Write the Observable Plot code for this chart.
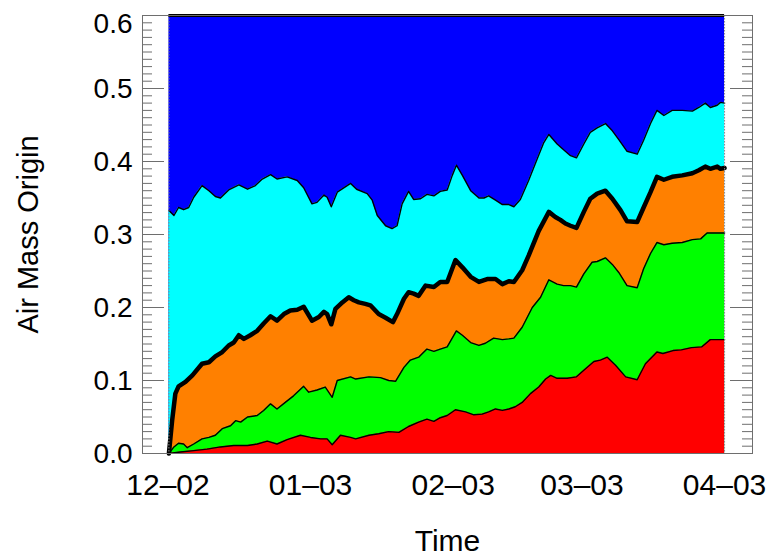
<!DOCTYPE html>
<html><head><meta charset="utf-8">
<script src="https://cdn.jsdelivr.net/npm/d3@7"></script>
<script src="https://cdn.jsdelivr.net/npm/@observablehq/plot@0.6"></script>
<style>html,body{margin:0;padding:0;background:#fff}svg{display:block}</style>
</head><body><div id="chart"></div>
<script>
// ---- data (days since 2002-12-01, cumulative layer tops) ----
const startDate = "2002-12-01";
const domainDays = [-5.54, 127.07];
const xTickDays = [0, 31, 62, 90, 121];
const xTickLabels = ["12–02", "01–03", "02–03", "03–03", "04–03"];
const yMajorTicks = [0, 0.1, 0.2, 0.3, 0.4, 0.5, 0.6];
const yMinorStep = 0.01;
const yMax = 0.6;

const cyanDays = [0.2,1.3,2.3,3.4,4.5,5.6,7.4,8.9,10.3,11.4,13.2,15.4,17.3,19.0,20.5,22.3,23.7,25.9,28.1,29.5,31.3,32.4,33.9,34.6,35.5,36.8,39.7,41.0,43.3,44.4,45.5,47.3,48.7,49.8,50.9,52.3,53.4,54.9,56.3,57.8,59.2,60.7,61.8,62.7,64.0,65.8,67.6,68.7,69.7,71.2,72.7,74.1,75.2,76.6,78.4,80.3,81.7,82.8,84.6,86.0,87.5,88.8,90.4,91.8,93.3,95.1,96.6,98.0,99.8,102.0,103.4,104.9,106.3,107.8,109.6,111.8,114.0,115.4,116.8,117.9,119.4,120.1,121.0];
const cyanTop = [0.333,0.326,0.337,0.334,0.337,0.351,0.367,0.360,0.352,0.350,0.361,0.368,0.362,0.367,0.376,0.382,0.376,0.379,0.374,0.364,0.342,0.344,0.354,0.351,0.338,0.358,0.370,0.362,0.356,0.347,0.326,0.312,0.308,0.312,0.342,0.359,0.348,0.349,0.355,0.353,0.359,0.361,0.381,0.395,0.381,0.360,0.350,0.350,0.353,0.347,0.341,0.341,0.338,0.348,0.374,0.404,0.426,0.437,0.424,0.416,0.408,0.405,0.424,0.440,0.446,0.452,0.442,0.430,0.414,0.410,0.429,0.452,0.470,0.463,0.470,0.470,0.469,0.474,0.480,0.474,0.477,0.481,0.480];

const orangeDays = [0.2,0.9,1.6,2.3,3.8,5.3,7.4,8.9,10.3,11.8,13.2,14.3,15.4,16.5,17.9,19.4,20.8,22.3,23.7,25.2,26.6,28.1,29.5,31.3,32.8,33.9,34.6,35.5,36.4,37.9,39.3,40.4,41.5,42.9,44.0,45.8,47.3,48.9,49.8,51.3,52.3,53.4,54.5,56.0,57.8,59.2,60.7,62.5,64.0,65.8,67.6,69.4,71.2,72.7,74.1,75.2,77.0,78.4,80.6,82.8,84.2,85.3,86.4,87.5,88.8,90.4,91.8,93.3,95.1,96.6,98.4,99.8,102.0,103.4,104.9,106.3,107.8,109.6,111.8,114.0,115.4,116.8,117.9,119.4,120.1,121.0];
const orangeTop = [0,0.045,0.082,0.092,0.098,0.107,0.123,0.125,0.133,0.139,0.148,0.152,0.162,0.157,0.162,0.168,0.178,0.188,0.182,0.191,0.196,0.197,0.201,0.182,0.187,0.194,0.191,0.177,0.198,0.207,0.214,0.210,0.207,0.205,0.203,0.191,0.186,0.180,0.191,0.212,0.221,0.219,0.216,0.230,0.228,0.235,0.235,0.265,0.255,0.242,0.235,0.239,0.239,0.232,0.236,0.235,0.251,0.271,0.305,0.331,0.324,0.320,0.315,0.312,0.309,0.331,0.349,0.356,0.360,0.349,0.333,0.318,0.317,0.337,0.358,0.379,0.375,0.379,0.381,0.384,0.388,0.393,0.390,0.393,0.390,0.391];

const greenDays = [0.2,1.3,2.3,3.4,4.2,5.6,7.4,8.9,10.3,11.8,13.6,14.7,15.8,17.3,19.4,20.8,22.3,23.7,25.5,27.3,29.5,30.6,32.4,34.2,35.7,36.8,39.7,40.8,43.7,46.2,48.0,49.5,51.3,52.7,54.5,56.3,57.8,59.2,60.7,62.7,64.0,65.8,67.6,69.0,70.8,72.7,74.1,75.2,77.0,79.2,81.0,82.8,84.6,86.0,87.5,88.8,90.4,92.2,93.3,95.1,96.6,98.0,99.8,102.0,103.4,104.9,106.3,107.8,109.6,111.8,114.0,115.8,117.2,118.6,121.0];
const greenTop = [0,0.009,0.014,0.013,0.008,0.013,0.020,0.022,0.025,0.034,0.038,0.045,0.043,0.050,0.052,0.059,0.068,0.061,0.070,0.079,0.092,0.084,0.087,0.091,0.077,0.100,0.105,0.102,0.105,0.104,0.100,0.099,0.118,0.128,0.132,0.143,0.140,0.143,0.146,0.168,0.162,0.152,0.148,0.151,0.158,0.156,0.157,0.158,0.173,0.200,0.214,0.238,0.232,0.230,0.230,0.228,0.246,0.262,0.263,0.268,0.259,0.248,0.230,0.227,0.253,0.274,0.289,0.286,0.288,0.289,0.293,0.294,0.302,0.302,0.302];

const redDays = [0.2,2.7,5.6,8.5,11.4,14.3,17.3,19.4,21.6,23.7,25.9,28.8,31.0,33.2,34.6,35.7,37.5,39.7,40.8,43.7,45.8,48.0,50.2,52.3,54.5,56.3,57.8,59.2,60.7,62.5,64.7,66.5,68.3,69.7,71.2,72.7,74.1,75.5,77.0,78.8,80.6,82.1,83.2,84.6,86.8,88.8,90.4,92.6,94.0,95.5,97.3,99.5,102.0,103.8,106.3,107.6,109.8,111.6,113.8,116.0,117.9,121.0];
const redTop = [0,0.002,0.004,0.006,0.009,0.011,0.011,0.013,0.017,0.013,0.019,0.025,0.022,0.020,0.020,0.012,0.025,0.022,0.020,0.025,0.027,0.030,0.029,0.037,0.043,0.047,0.044,0.049,0.052,0.060,0.057,0.053,0.054,0.057,0.061,0.059,0.061,0.064,0.070,0.082,0.091,0.102,0.107,0.103,0.103,0.105,0.114,0.126,0.128,0.132,0.121,0.105,0.101,0.123,0.139,0.137,0.141,0.142,0.145,0.146,0.156,0.156];

// ---- helpers ----
const t0 = Date.parse(startDate);
const toDate = d => new Date(t0 + d * 864e5);
const rows = (days, vals) => days.map((d, i) => ({x: toDate(d), y: vals[i]}));
const cyan = rows(cyanDays, cyanTop);
const orange = rows(orangeDays, orangeTop);
const green = rows(greenDays, greenTop);
const red = rows(redDays, redTop);
const blue = cyanDays.map(d => ({x: toDate(d), y: yMax}));
const dataEnds = d3.extent(cyanDays).map(toDate);
const yMinorTicks = d3.range(0, Math.round(yMax / yMinorStep) + 1).map(i => +(i * yMinorStep).toFixed(2));

const W = 773, H = 558, mL = 142, mR = 21, mT = 15, mB = 105;
const innerW = W - mL - mR;
const majorLen = 22, minorLen = 10;
const axisGray = "#6e6e6e";
const font = "'Liberation Sans', Arial, Helvetica, sans-serif";

const chart = Plot.plot({
  width: W, height: H,
  marginLeft: mL, marginRight: mR, marginTop: mT, marginBottom: mB,
  style: {fontFamily: font, background: "#fff", color: "#000"},
  x: {type: "utc", domain: domainDays.map(toDate), axis: null},
  y: {domain: [0, yMax], axis: null},
  marks: [
    Plot.areaY(blue, {x: "x", y: "y", fill: "#0000ff"}),
    Plot.areaY(cyan, {x: "x", y: "y", fill: "#00ffff"}),
    Plot.areaY(orange, {x: "x", y: "y", fill: "#ff8000"}),
    Plot.areaY(green, {x: "x", y: "y", fill: "#00ff00"}),
    Plot.areaY(red, {x: "x", y: "y", fill: "#ff0000"}),
    Plot.lineY(cyan, {x: "x", y: "y", stroke: "#000", strokeWidth: 1.4}),
    Plot.lineY(green, {x: "x", y: "y", stroke: "#000", strokeWidth: 1.4}),
    Plot.lineY(red, {x: "x", y: "y", stroke: "#000", strokeWidth: 1.4}),
    Plot.lineY(orange, {x: "x", y: "y", stroke: "#000", strokeWidth: 4.5, strokeLinejoin: "round"}),
    Plot.ruleY([yMax], {x1: dataEnds[0], x2: dataEnds[1], stroke: "#000", strokeWidth: 3}),
    Plot.ruleX(dataEnds, {stroke: "#888", strokeWidth: 1, strokeDasharray: "1.5,1.5"}),
    Plot.frame({stroke: axisGray, strokeWidth: 1}),
    // left & right inward ticks
    Plot.tickY(yMinorTicks, {y: d => d, stroke: axisGray, insetRight: innerW - minorLen}),
    Plot.tickY(yMinorTicks, {y: d => d, stroke: axisGray, insetLeft: innerW - minorLen}),
    Plot.tickY(yMajorTicks, {y: d => d, stroke: axisGray, insetRight: innerW - majorLen}),
    Plot.tickY(yMajorTicks, {y: d => d, stroke: axisGray, insetLeft: innerW - majorLen}),
    // y tick labels
    Plot.text(yMajorTicks.filter(t => t < yMax), {y: d => d, text: d => d.toFixed(1), frameAnchor: "left", textAnchor: "end", dx: -10, dy: 1, fontSize: 28, fill: "#000"}),
    Plot.text(yMajorTicks.filter(t => t === yMax), {y: d => d, text: d => d.toFixed(1), frameAnchor: "left", textAnchor: "end", dx: -10, dy: 9, fontSize: 28, fill: "#000"}),
    // x tick labels
    Plot.text(xTickDays, {x: d => toDate(d), text: (d, i) => xTickLabels[i], frameAnchor: "bottom", textAnchor: "middle", lineAnchor: "bottom", dy: 41, fontSize: 30, fill: "#000"}),
    // axis titles
    Plot.text(["Time"], {text: d => d, frameAnchor: "bottom", textAnchor: "middle", lineAnchor: "bottom", dy: 97, fontSize: 30, fill: "#000"}),
    Plot.text(["Air Mass Origin"], {text: d => d, frameAnchor: "left", textAnchor: "middle", rotate: -90, lineAnchor: "bottom", dx: -105, fontSize: 29, fill: "#000"})
  ]
});
document.getElementById("chart").appendChild(chart);
</script>
</body></html>
